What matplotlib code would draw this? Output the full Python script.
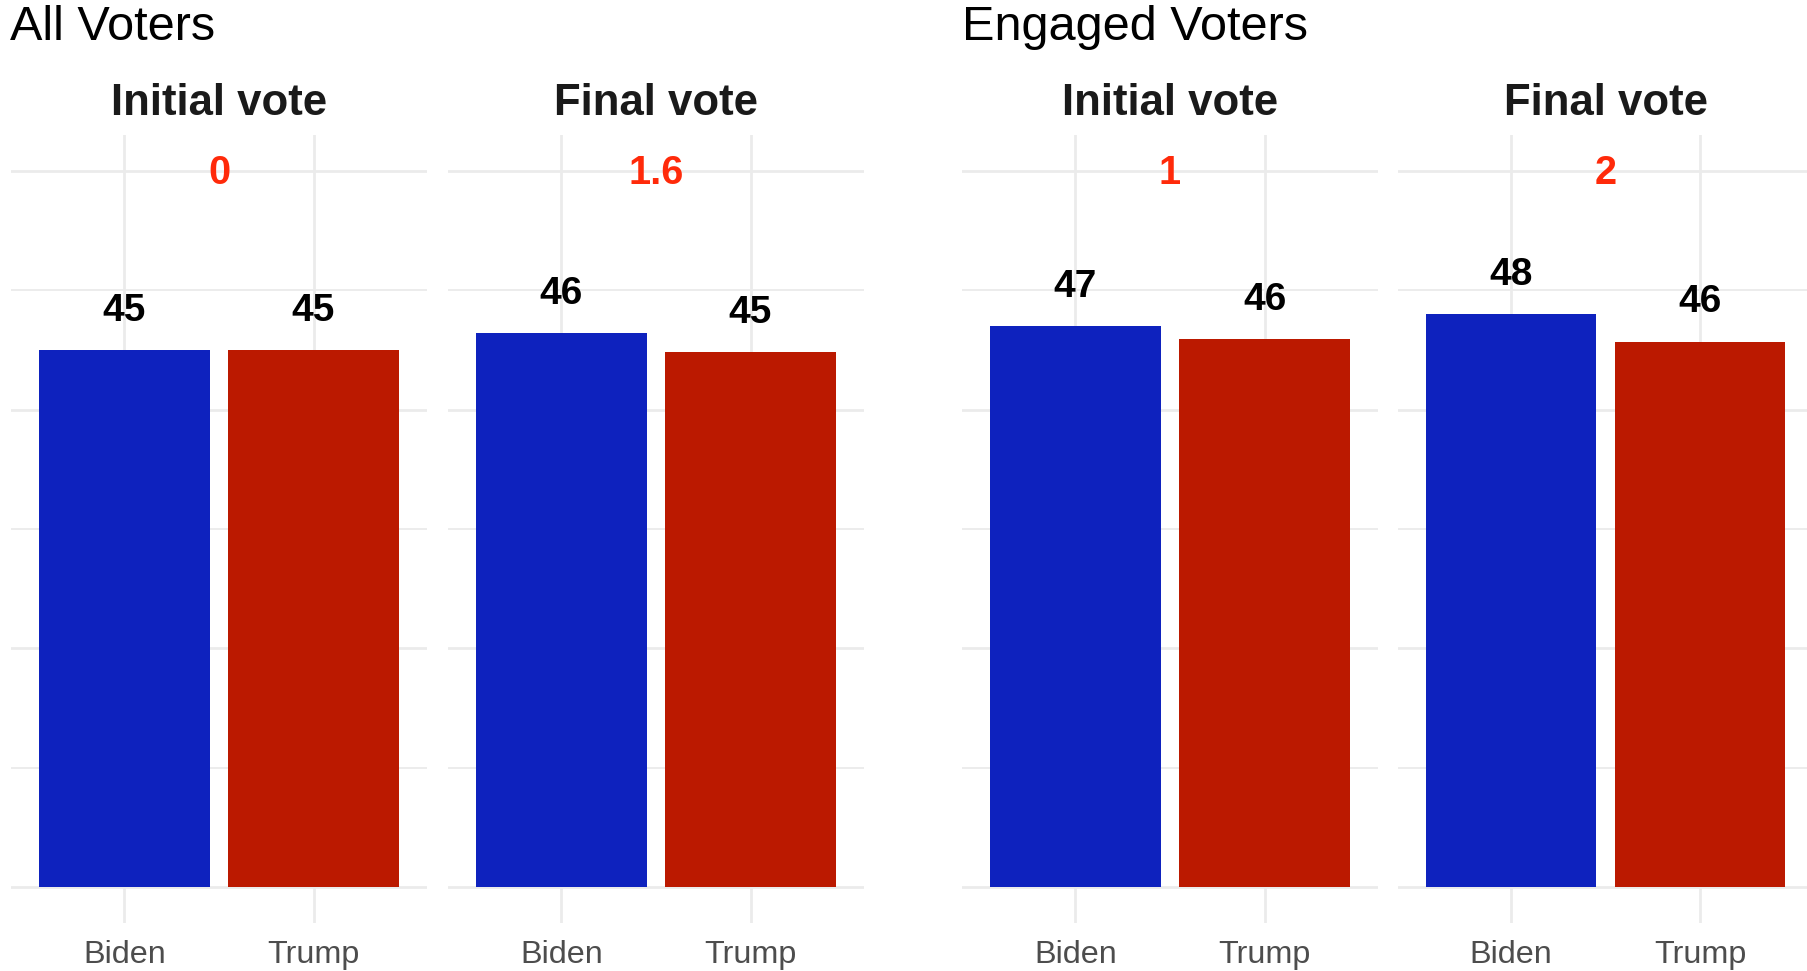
import numpy as np
import matplotlib
matplotlib.use("Agg")
import matplotlib.pyplot as plt

plt.rcParams['font.family'] = ['Liberation Sans', 'DejaVu Sans']

# data
candidates = ["Biden", "Trump"]
groups = ["All Voters", "Engaged Voters"]
facets = ["Initial vote", "Final vote"]
all_initial = [45.0, 45.0]
all_final = [46.4, 44.8]
engaged_initial = [47.0, 45.9]
engaged_final = [48.0, 45.7]
gap_labels = ["0", "1.6", "1", "2"]

panels = [all_initial, all_final, engaged_initial, engaged_final]
bar_colors = ["#0e22be", "#bb1900"]
grid_col = "#ebebeb"

W, H = 1807, 971
fig = plt.figure(figsize=(W / 100, H / 100), dpi=100)

lefts = [11, 448, 962, 1397.5]
pw = 416
bottom, top = 923, 135

x = np.arange(len(candidates))
for i, vals in enumerate(panels):
    ax = fig.add_axes([lefts[i] / W, (H - bottom) / H, pw / W, (bottom - top) / H])
    ax.set_xlim(-0.6, 1.6)
    ax.set_ylim(-3, 63)
    for spine in ax.spines.values():
        spine.set_visible(False)
    # grid: thicker at 0/20/40/60, thinner in between
    for yv in range(0, 61, 10):
        lw = 2.0 if yv % 20 == 0 else 1.3
        ax.axhline(yv, color=grid_col, lw=lw, zorder=0)
    for xv in x:
        ax.axvline(xv, color=grid_col, lw=2.0, zorder=0)
    ax.bar(x, vals, width=0.9, color=bar_colors, zorder=2)
    for xv, v in zip(x, vals):
        ax.annotate(f"{round(v):d}", (xv, v), xytext=(0, 21), textcoords="offset points",
                    ha="center", va="baseline", fontsize=28, fontweight="bold", color="black")
    ax.annotate(gap_labels[i], (0.5, 60), xytext=(0, -9.8), textcoords="offset points",
                ha="center", va="baseline", fontsize=28.5, fontweight="bold", color="#ff2a0a")
    ax.set_yticks([])
    ax.set_xticks(x)
    ax.set_xticklabels(candidates, fontsize=23.3, color="#4d4d4d")
    ax.tick_params(axis="x", length=0, pad=12)
    fig.text((lefts[i] + pw / 2) / W, (H - 115) / H, facets[i % 2], ha="center", va="baseline",
             fontsize=31.5, fontweight="bold", color="#1a1a1a")

for g, lx in zip(groups, [lefts[0], lefts[2]]):
    fig.text((lx - 0.5) / W, (H - 40) / H, g, ha="left", va="baseline", fontsize=35, color="black")

fig.savefig("out.png", dpi=100)
